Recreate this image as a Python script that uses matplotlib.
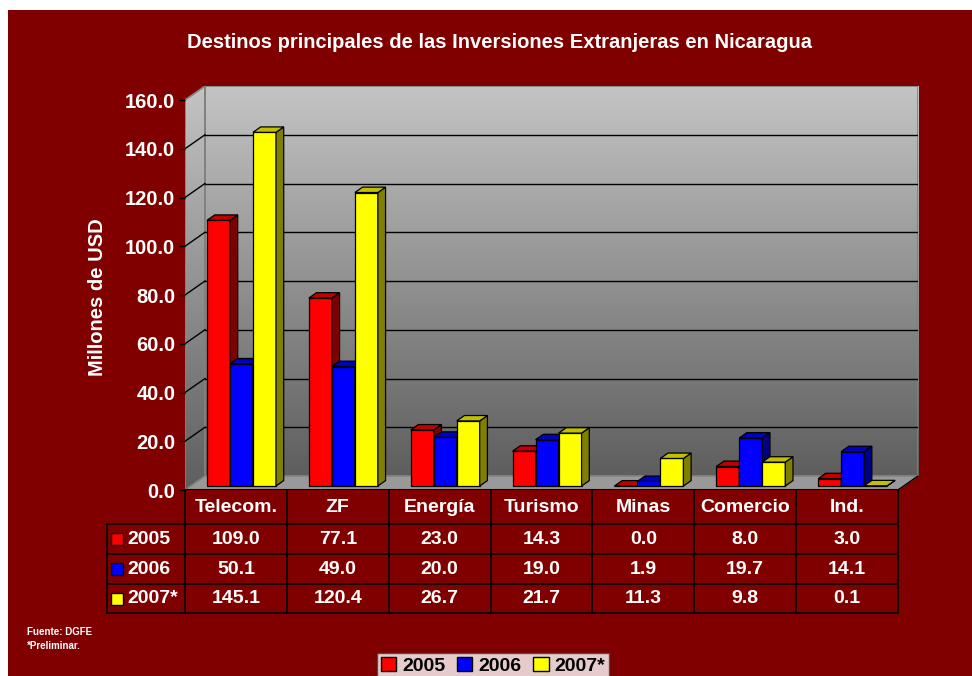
import matplotlib.pyplot as plt
import numpy as np
from matplotlib.patches import Polygon, Rectangle, Patch
from matplotlib.colors import LinearSegmentedColormap

plt.rcParams['font.family'] = ['Liberation Sans', 'DejaVu Sans']
plt.rcParams['font.weight'] = 'bold'

categories = ['Telecom.', 'ZF', 'Energía', 'Turismo', 'Minas', 'Comercio', 'Ind.']
v2005 = [109.0, 77.1, 23.0, 14.3, 0.0, 8.0, 3.0]
v2006 = [50.1, 49.0, 20.0, 19.0, 1.9, 19.7, 14.1]
v2007 = [145.1, 120.4, 26.7, 21.7, 11.3, 9.8, 0.1]
series_names = ['2005', '2006', '2007*']
yticks = [0, 20, 40, 60, 80, 100, 120, 140, 160]

W, H = 972, 676
BG = '#800000'
front = ['#FF0000', '#0000FF', '#FFFF00']
side = ['#800000', '#000080', '#808000']
top = ['#C00000', '#0000C0', '#C0C000']

fig = plt.figure(figsize=(W / 100, H / 100), dpi=100, facecolor='white')
fig.patches.append(Rectangle((8 / W, 0), 1, 1 - 10 / H, transform=fig.transFigure,
                             facecolor=BG, edgecolor='none', zorder=-10))

# 3D depth in data units
colpx = 713 / 7
ypx = 390 / 160
DX = 20 / colpx
DY = 14 / ypx
ymax = 160

ax = fig.add_axes([185 / W, 1 - 490 / H, (7 + DX) * colpx / W, (ymax + DY) * ypx / H])
ax.set_facecolor('none')
for s in ax.spines.values():
    s.set_visible(False)

cmap = LinearSegmentedColormap.from_list('wall', ['#5E5E5E', '#C4C4C4'])
grad = np.linspace(0, 1, 256).reshape(-1, 1)
ax.imshow(grad, extent=(DX, 7 + DX, DY, ymax + DY), origin='lower', aspect='auto',
          cmap=cmap, zorder=0)
lw_poly = Polygon([(0, 0), (DX, DY), (DX, ymax + DY), (0, ymax)], closed=True,
                  facecolor='none', edgecolor='#808080', lw=1.2, zorder=1)
ax.add_patch(lw_poly)
im2 = ax.imshow(grad, extent=(0, DX, 0, ymax + DY), origin='lower', aspect='auto',
                cmap=cmap, zorder=0)
im2.set_clip_path(lw_poly)
ax.add_patch(Rectangle((DX, DY), 7, ymax, facecolor='none', edgecolor='#808080', lw=1.2, zorder=1))
ax.add_patch(Polygon([(0, 0), (7, 0), (7 + DX, DY), (DX, DY)], closed=True,
                     facecolor='#999999', edgecolor='#808080', lw=1, zorder=1))
for t in yticks[1:-1]:
    ax.plot([DX, 7 + DX], [t + DY, t + DY], color='black', lw=1, zorder=1)
    ax.plot([0, DX], [t, t + DY], color='black', lw=1, zorder=1)
ax.plot([0, 7], [0, 0], color='black', lw=1.5, zorder=2)
ax.plot([7, 7 + DX], [0, DY], color='black', lw=1, zorder=2)

# bars
x0 = np.arange(7)
bw = 23 / colpx
boff = 22 / colpx
bdx = 7.7 / colpx
bdy = 5.4 / ypx
yoff = 4 / ypx
for k, vals in enumerate([v2005, v2006, v2007]):
    xs = x0 + boff + k * bw
    ax.bar(xs, vals, width=bw, bottom=yoff, align='edge', color=front[k],
           edgecolor='black', lw=0.9, zorder=3 + k)
    for xi, v in zip(xs, vals):
        yt = v + yoff
        ax.add_patch(Polygon([(xi + bw, yoff), (xi + bw + bdx, yoff + bdy),
                              (xi + bw + bdx, yt + bdy), (xi + bw, yt)], closed=True,
                             facecolor=side[k], edgecolor='black', lw=0.9, zorder=3 + k))
        ax.add_patch(Polygon([(xi, yt), (xi + bw, yt), (xi + bw + bdx, yt + bdy),
                              (xi + bdx, yt + bdy)], closed=True,
                             facecolor=top[k], edgecolor='black', lw=0.9, zorder=3 + k))

ax.set_xlim(0, 7 + DX)
ax.set_ylim(0, ymax + DY)
ax.set_xticks([])
ax.set_yticks(yticks)
ax.set_yticklabels(['%.1f' % t for t in yticks])
ax.tick_params(axis='y', colors='black', length=4.5, width=1, pad=2.5, labelcolor='white',
               labelsize=14.5)

fig.text(499 / W, 1 - 42 / H, 'Destinos principales de las Inversiones Extranjeras en Nicaragua',
         ha='center', va='center', color='white', fontsize=14.5, fontweight='bold')
fig.text(97 / W, 1 - 297 / H, 'Millones de USD', rotation=90, ha='center', va='center',
         color='white', fontsize=14.5, fontweight='bold')

# data table
tax = fig.add_axes([185 / W, 1 - 613 / H, 713 / W, 123 / H])
tax.set_xlim(0, 7)
tax.set_ylim(123, 0)
tax.axis('off')
rows = [0, 34, 64, 94, 123]
xl = (107 - 185) / colpx
lc = dict(color='black', lw=1.2, clip_on=False)
for i in range(8):
    tax.plot([i, i], [0, 123], **lc)
for r in rows[1:]:
    tax.plot([xl, 7], [r, r], **lc)
tax.plot([xl, xl], [34, 123], **lc)
for i, c in enumerate(categories):
    tax.text(i + 0.5, 17, c, ha='center', va='center', color='white', fontsize=14,
             fontweight='bold')
for k, vals in enumerate([v2005, v2006, v2007]):
    yc = (rows[k + 1] + rows[k + 2]) / 2
    tax.add_patch(Rectangle(((111 - 185) / colpx, yc - 6), 12 / colpx, 12,
                            facecolor=front[k], edgecolor='black', lw=1, clip_on=False))
    tax.text((127 - 185) / colpx, yc, series_names[k], ha='left', va='center', color='white',
             fontsize=14, fontweight='bold', clip_on=False)
    for i, v in enumerate(vals):
        tax.text(i + 0.5, yc, '%.1f' % v, ha='center', va='center', color='white',
                 fontsize=14, fontweight='bold')

fig.text(27 / W, 1 - 632 / H, 'Fuente: DGFE', color='white', fontsize=7, fontweight='bold',
         va='center')
fig.text(27 / W, 1 - 646 / H, '*Preliminar.', color='white', fontsize=7, fontweight='bold',
         va='center')

handles = [Patch(facecolor=front[k], edgecolor='black') for k in range(3)]
leg = fig.legend(handles, series_names, loc='lower center', bbox_to_anchor=(493 / W, -0.004),
                 ncol=3, frameon=True, fancybox=False, prop={'weight': 'bold', 'size': 14},
                 handlelength=0.8, handleheight=0.8, handletextpad=0.3, columnspacing=0.6,
                 borderpad=0.2, borderaxespad=0)
leg.get_frame().set_facecolor('white')
leg.get_frame().set_edgecolor('#404040')

fig.savefig('out.png', dpi=100, facecolor=fig.get_facecolor())
